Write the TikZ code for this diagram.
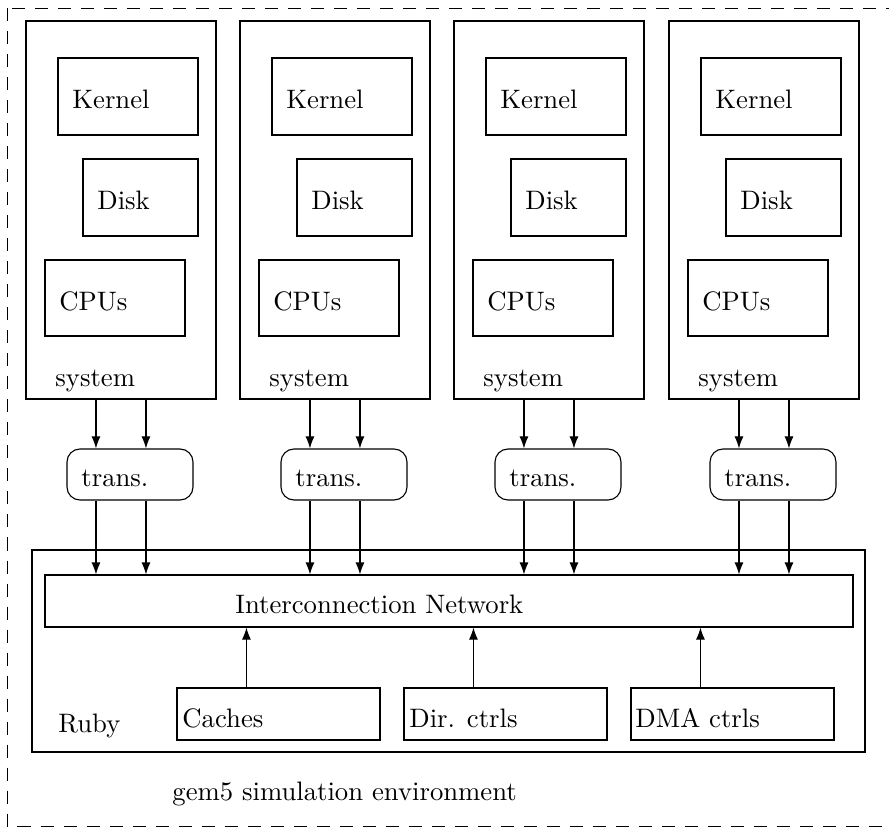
\documentclass[tikz,border=0pt]{standalone}
\usepackage{fontspec}
\setmainfont{lmroman10-regular.otf}
\usetikzlibrary{arrows.meta}
\begin{document}
\begin{tikzpicture}[x=0.5pt,y=-0.5pt,
  bx/.style 2 args={draw, line width=0.55pt, inner sep=0pt, minimum width=#1*0.5pt, minimum height=#2*0.5pt},
  rbx/.style 2 args={bx={#1}{#2}, rounded corners=6.5pt},
  lbl/.style={inner sep=0pt, anchor=base west, font=\fontsize{13.35}{16}\selectfont},
  arr/.style={line width=0.55pt, -{Latex[length=6pt,width=4.5pt]}},
  outer/.style={draw, line width=0.55pt, dash pattern=on 6.5pt off 5pt}]
\useasboundingbox (0,0) rectangle (889,828);
\clip (0,0) rectangle (889,828);
\draw[outer] (7.5,8.5) rectangle (900,826.5);
% Ruby and network
\node[bx={833}{202}] (ruby) at (448.5,651) {};
\node[bx={808}{52}] (net) at (449,601) {};
\node[lbl] (nettxt) at (235,613) {Interconnection Network};
\node[bx={203}{52}] (cache) at (278.5,714) {};
\node[lbl] (cachetxt) at (182,727) {Caches};
\node[bx={203}{52}] (dir) at (505.5,714) {};
\node[lbl] (dirtxt) at (409,727) {Dir. ctrls};
\node[bx={203}{52}] (dma) at (732.5,714) {};
\node[lbl] (dmatxt) at (635,727) {DMA ctrls};
\node[lbl] (rubytxt) at (58,732) {Ruby};
\node[lbl] (gemtxt) at (172,800) {gem5 simulation environment};
\foreach \b in {cache,dir,dma}
  \draw[arr] ([xshift=35pt]\b.north west) -- ([xshift=35pt]\b.north west |- net.south);
% systems
\foreach \i/\L in {1/26,2/240,3/454,4/669}{
  \node[bx={190}{378}] (s\i) at (\L+95,210) {};
  \node[bx={140}{77}] (k\i) at (\L+102,96.5) {};
  \node[lbl] (kt\i) at (\L+46,109) {Kernel};
  \node[bx={115}{77}] (d\i) at (\L+114.5,197.5) {};
  \node[lbl] (dt\i) at (\L+71,210) {Disk};
  \node[bx={140}{76}] (c\i) at (\L+89,298) {};
  \node[lbl] (ct\i) at (\L+33,311) {CPUs};
  \node[lbl] (st\i) at (\L+29,387) {system};
  \node[rbx={126}{51}] (t\i) at (\L+104,474.5) {};
  \node[lbl] (tt\i) at (\L+55,487) {trans.};
  \foreach \dx in {35.25pt,60.25pt}{
    \draw[arr] ([xshift=\dx]s\i.south west) -- ([xshift=\dx]s\i.south west |- t\i.north);
    \draw[arr] ([xshift=\dx]s\i.south west |- t\i.south) -- ([xshift=\dx]s\i.south west |- net.north);
  }
}
\end{tikzpicture}
\end{document}
